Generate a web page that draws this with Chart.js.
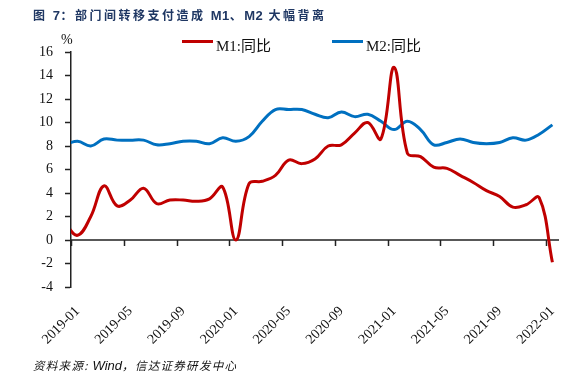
<!DOCTYPE html>
<html>
<head>
<meta charset="utf-8">
<script src="https://cdn.jsdelivr.net/npm/chart.js@4"></script>
<style>
  html, body { margin: 0; padding: 0; background: #fff; }
  #wrap { position: relative; width: 581px; height: 385px; overflow: hidden; }
  canvas { position: absolute; left: 0; top: 0; }
  .t { position: absolute; white-space: nowrap; line-height: 1; }
  #title { left: 33px; top: 6px; font: bold 12px "Noto Sans CJK SC", sans-serif; letter-spacing: 2.5px; color: #1f3763; }
  #title b { font: bold 13px "Liberation Sans", sans-serif; letter-spacing: 0.5px; }
  #pct { left: 61px; top: 32px; font: 14px "Liberation Serif", serif; color: #111; }
  .leg { font: 15px "Liberation Serif", "Noto Sans CJK SC", serif; color: #111; top: 34px; }
  .legline { position: absolute; height: 3px; width: 31px; top: 40px; }
  #src { left: 33px; top: 357px; font: italic 11.5px "Noto Sans CJK SC", sans-serif; letter-spacing: 1.3px; color: #111; }
  #src i { font: italic 13px "Liberation Sans", sans-serif; letter-spacing: 0; }
</style>
</head>
<body>
<div id="wrap">
  <canvas id="c" width="581" height="385"></canvas>
  <div class="t" id="title">图 <b>7</b>：部门间转移支付造成 <b>M1</b>、<b>M2</b> 大幅背离</div>
  <div class="t" id="pct">%</div>
  <div class="legline" style="left:182px;background:#c00000"></div>
  <div class="t leg" style="left:216px">M1:同比</div>
  <div class="legline" style="left:332px;background:#0070c0"></div>
  <div class="t leg" style="left:366px">M2:同比</div>
  <div class="t" id="src">资料来源: <i>Wind</i>，信达证券研发中心</div>
</div>
<script>
// Months (first one, 2018-12, lies just left of the plot and is clipped)
const months = [
  "2018-12",
  "2019-01","2019-02","2019-03","2019-04","2019-05","2019-06","2019-07","2019-08","2019-09","2019-10","2019-11","2019-12",
  "2020-01","2020-02","2020-03","2020-04","2020-05","2020-06","2020-07","2020-08","2020-09","2020-10","2020-11","2020-12",
  "2021-01","2021-02","2021-03","2021-04","2021-05","2021-06","2021-07","2021-08","2021-09","2021-10","2021-11","2021-12",
  "2022-01"
];
const m1 = [
  1.5,
  0.4, 2.0, 4.6, 2.9, 3.4, 4.4, 3.1, 3.4, 3.4, 3.3, 3.5, 4.5,
  0.0, 4.8, 5.0, 5.5, 6.8, 6.5, 6.9, 8.0, 8.1, 9.1, 10.0, 8.6,
  14.7, 7.4, 7.1, 6.2, 6.1, 5.5, 4.9, 4.2, 3.7, 2.8, 3.0, 3.6,
  -1.9
];
const m2 = [
  8.1,
  8.4, 8.0, 8.6, 8.5, 8.5, 8.5, 8.1, 8.2, 8.4, 8.4, 8.2, 8.7,
  8.4, 8.8, 10.1, 11.1, 11.1, 11.1, 10.7, 10.4, 10.9, 10.5, 10.7, 10.1,
  9.4, 10.1, 9.4, 8.1, 8.3, 8.6, 8.3, 8.2, 8.3, 8.7, 8.5, 9.0,
  9.8
];
const tickLabels = ["2019-01","2019-05","2019-09","2020-01","2020-05","2020-09","2021-01","2021-05","2021-09","2022-01"];
const yMin = -4, yMax = 16, yStep = 2;

const pos = m => months.indexOf(m) - 1;   // 2019-01 -> 0
const pts = arr => arr.map((v, i) => ({ x: pos(months[i]), y: v }));

const zeroAxis = {
  id: 'zeroAxis',
  beforeDatasetsDraw(chart) {
    const { ctx, chartArea, scales } = chart;
    const x = scales.x, y = scales.y;
    const y0 = y.getPixelForValue(0);
    ctx.save();
    ctx.strokeStyle = '#222';
    ctx.lineWidth = 1.5;
    ctx.beginPath();
    ctx.moveTo(chartArea.left, y0);
    ctx.lineTo(chartArea.right, y0);
    tickLabels.forEach(lbl => {
      const px = Math.round(x.getPixelForValue(pos(lbl) - 0.5)) + 0.5;
      ctx.moveTo(px, y0);
      ctx.lineTo(px, y0 + 6);
    });
    ctx.stroke();
    ctx.restore();
  }
};

new Chart(document.getElementById('c'), {
  type: 'line',
  data: {
    datasets: [
      { label: 'M1:同比', data: pts(m1), borderColor: '#c00000', borderWidth: 3, pointRadius: 0, tension: 0.4,
        clip: { left: 0, top: 10, right: 10, bottom: 10 } },
      { label: 'M2:同比', data: pts(m2), borderColor: '#0070c0', borderWidth: 3, pointRadius: 0, tension: 0.4,
        clip: { left: 0, top: 10, right: 10, bottom: 10 } }
    ]
  },
  options: {
    responsive: false,
    animation: false,
    layout: { padding: { top: 52, right: 22, left: 0, bottom: 0 } },
    plugins: { legend: { display: false }, title: { display: false }, tooltip: { enabled: false } },
    scales: {
      x: {
        type: 'linear',
        min: -0.5, max: 36.5,
        afterBuildTicks: s => { s.ticks = tickLabels.map(l => ({ value: pos(l) })); },
        afterFit: s => { s.height = 98; },
        grid: { display: false },
        border: { display: false },
        ticks: {
          autoSkip: false, maxRotation: 45, minRotation: 45, padding: 8,
          color: '#111', font: { family: '"Liberation Serif", serif', size: 14 },
          callback: v => months[v + 1]
        }
      },
      y: {
        min: yMin, max: yMax,
        afterFit: s => { s.width = 71; },
        grid: { drawOnChartArea: false, drawTicks: true, tickLength: 6, tickColor: '#222', tickWidth: 1.5 },
        border: { color: '#222', width: 1.5 },
        ticks: {
          stepSize: yStep, padding: 12, color: '#111',
          font: { family: '"Liberation Serif", serif', size: 14 }
        }
      }
    }
  },
  plugins: [zeroAxis]
});
</script>
</body>
</html>
